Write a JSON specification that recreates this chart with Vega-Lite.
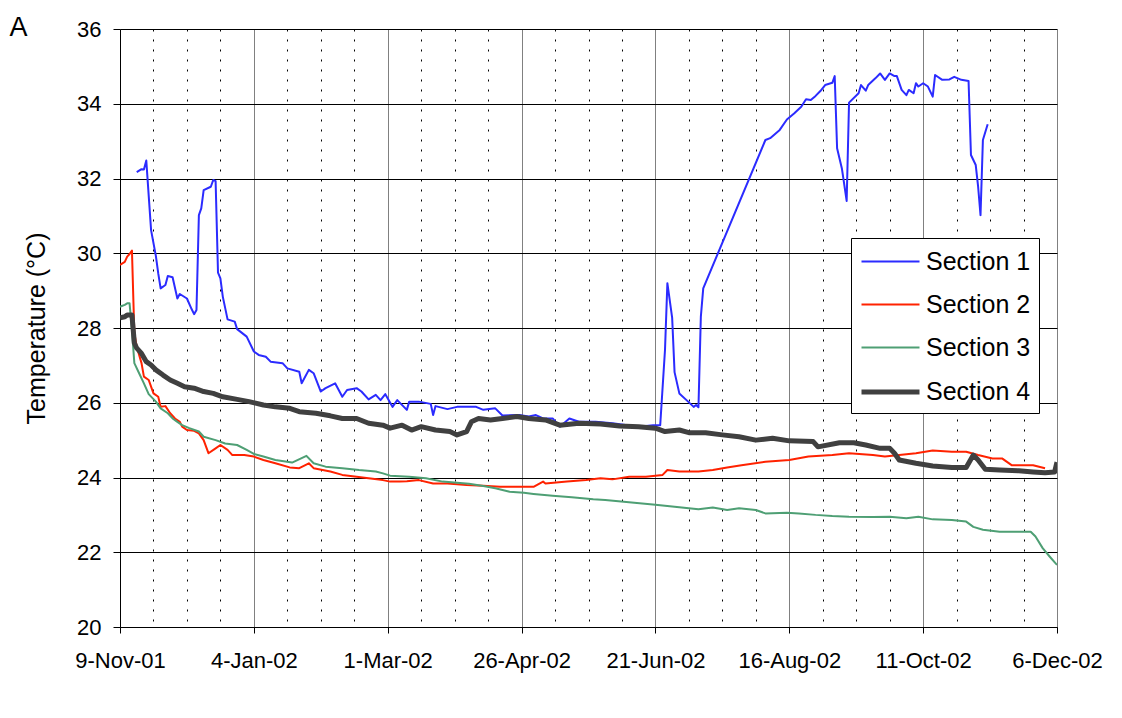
{
  "$schema": "https://vega.github.io/schema/vega-lite/v6.json",
  "width": 937,
  "height": 598,
  "autosize": {"type": "none"},
  "padding": {"left": 120, "top": 29, "right": 65, "bottom": 91},
  "background": "white",
  "title": {"text": "A", "anchor": "start", "frame": "bounds", "font": "Liberation Sans", "fontSize": 27, "fontWeight": "normal", "color": "black", "dx": -15, "dy": 24, "offset": 0},
  "data": {"values": [
    {"date": "2001-11-16", "section": "Section 1", "temp": 32.17},
    {"date": "2001-11-18", "section": "Section 1", "temp": 32.25},
    {"date": "2001-11-19", "section": "Section 1", "temp": 32.24},
    {"date": "2001-11-20", "section": "Section 1", "temp": 32.48},
    {"date": "2001-11-22", "section": "Section 1", "temp": 30.62},
    {"date": "2001-11-24", "section": "Section 1", "temp": 29.93},
    {"date": "2001-11-25", "section": "Section 1", "temp": 29.46},
    {"date": "2001-11-26", "section": "Section 1", "temp": 29.06},
    {"date": "2001-11-28", "section": "Section 1", "temp": 29.15},
    {"date": "2001-11-29", "section": "Section 1", "temp": 29.39},
    {"date": "2001-12-01", "section": "Section 1", "temp": 29.36},
    {"date": "2001-12-03", "section": "Section 1", "temp": 28.79},
    {"date": "2001-12-04", "section": "Section 1", "temp": 28.91},
    {"date": "2001-12-07", "section": "Section 1", "temp": 28.79},
    {"date": "2001-12-09", "section": "Section 1", "temp": 28.50},
    {"date": "2001-12-10", "section": "Section 1", "temp": 28.37},
    {"date": "2001-12-11", "section": "Section 1", "temp": 28.48},
    {"date": "2001-12-12", "section": "Section 1", "temp": 31.02},
    {"date": "2001-12-13", "section": "Section 1", "temp": 31.20},
    {"date": "2001-12-14", "section": "Section 1", "temp": 31.69},
    {"date": "2001-12-17", "section": "Section 1", "temp": 31.78},
    {"date": "2001-12-18", "section": "Section 1", "temp": 31.96},
    {"date": "2001-12-19", "section": "Section 1", "temp": 31.93},
    {"date": "2001-12-20", "section": "Section 1", "temp": 29.48},
    {"date": "2001-12-21", "section": "Section 1", "temp": 29.33},
    {"date": "2001-12-22", "section": "Section 1", "temp": 28.84},
    {"date": "2001-12-24", "section": "Section 1", "temp": 28.23},
    {"date": "2001-12-27", "section": "Section 1", "temp": 28.17},
    {"date": "2001-12-28", "section": "Section 1", "temp": 27.97},
    {"date": "2002-01-01", "section": "Section 1", "temp": 27.77},
    {"date": "2002-01-04", "section": "Section 1", "temp": 27.37},
    {"date": "2002-01-06", "section": "Section 1", "temp": 27.28},
    {"date": "2002-01-09", "section": "Section 1", "temp": 27.23},
    {"date": "2002-01-11", "section": "Section 1", "temp": 27.10},
    {"date": "2002-01-16", "section": "Section 1", "temp": 27.06},
    {"date": "2002-01-18", "section": "Section 1", "temp": 26.92},
    {"date": "2002-01-23", "section": "Section 1", "temp": 26.83},
    {"date": "2002-01-24", "section": "Section 1", "temp": 26.52},
    {"date": "2002-01-27", "section": "Section 1", "temp": 26.88},
    {"date": "2002-01-29", "section": "Section 1", "temp": 26.79},
    {"date": "2002-02-01", "section": "Section 1", "temp": 26.30},
    {"date": "2002-02-03", "section": "Section 1", "temp": 26.39},
    {"date": "2002-02-07", "section": "Section 1", "temp": 26.52},
    {"date": "2002-02-10", "section": "Section 1", "temp": 26.16},
    {"date": "2002-02-12", "section": "Section 1", "temp": 26.34},
    {"date": "2002-02-16", "section": "Section 1", "temp": 26.39},
    {"date": "2002-02-18", "section": "Section 1", "temp": 26.30},
    {"date": "2002-02-21", "section": "Section 1", "temp": 26.09},
    {"date": "2002-02-24", "section": "Section 1", "temp": 26.21},
    {"date": "2002-02-26", "section": "Section 1", "temp": 26.07},
    {"date": "2002-02-28", "section": "Section 1", "temp": 26.23},
    {"date": "2002-03-03", "section": "Section 1", "temp": 25.89},
    {"date": "2002-03-05", "section": "Section 1", "temp": 26.07},
    {"date": "2002-03-09", "section": "Section 1", "temp": 25.81},
    {"date": "2002-03-10", "section": "Section 1", "temp": 26.03},
    {"date": "2002-03-14", "section": "Section 1", "temp": 26.03},
    {"date": "2002-03-19", "section": "Section 1", "temp": 25.97},
    {"date": "2002-03-20", "section": "Section 1", "temp": 25.67},
    {"date": "2002-03-21", "section": "Section 1", "temp": 25.91},
    {"date": "2002-03-26", "section": "Section 1", "temp": 25.83},
    {"date": "2002-03-30", "section": "Section 1", "temp": 25.89},
    {"date": "2002-04-07", "section": "Section 1", "temp": 25.89},
    {"date": "2002-04-10", "section": "Section 1", "temp": 25.81},
    {"date": "2002-04-15", "section": "Section 1", "temp": 25.85},
    {"date": "2002-04-18", "section": "Section 1", "temp": 25.66},
    {"date": "2002-04-25", "section": "Section 1", "temp": 25.67},
    {"date": "2002-04-29", "section": "Section 1", "temp": 25.63},
    {"date": "2002-05-02", "section": "Section 1", "temp": 25.67},
    {"date": "2002-05-05", "section": "Section 1", "temp": 25.58},
    {"date": "2002-05-09", "section": "Section 1", "temp": 25.58},
    {"date": "2002-05-12", "section": "Section 1", "temp": 25.36},
    {"date": "2002-05-16", "section": "Section 1", "temp": 25.58},
    {"date": "2002-05-20", "section": "Section 1", "temp": 25.49},
    {"date": "2002-05-27", "section": "Section 1", "temp": 25.49},
    {"date": "2002-06-03", "section": "Section 1", "temp": 25.45},
    {"date": "2002-06-14", "section": "Section 1", "temp": 25.36},
    {"date": "2002-06-20", "section": "Section 1", "temp": 25.40},
    {"date": "2002-06-23", "section": "Section 1", "temp": 25.40},
    {"date": "2002-06-25", "section": "Section 1", "temp": 27.41},
    {"date": "2002-06-26", "section": "Section 1", "temp": 29.20},
    {"date": "2002-06-28", "section": "Section 1", "temp": 28.27},
    {"date": "2002-06-29", "section": "Section 1", "temp": 26.82},
    {"date": "2002-07-01", "section": "Section 1", "temp": 26.25},
    {"date": "2002-07-04", "section": "Section 1", "temp": 26.07},
    {"date": "2002-07-07", "section": "Section 1", "temp": 25.89},
    {"date": "2002-07-08", "section": "Section 1", "temp": 25.94},
    {"date": "2002-07-09", "section": "Section 1", "temp": 25.88},
    {"date": "2002-07-10", "section": "Section 1", "temp": 28.30},
    {"date": "2002-07-11", "section": "Section 1", "temp": 29.06},
    {"date": "2002-08-06", "section": "Section 1", "temp": 33.03},
    {"date": "2002-08-08", "section": "Section 1", "temp": 33.08},
    {"date": "2002-08-12", "section": "Section 1", "temp": 33.30},
    {"date": "2002-08-15", "section": "Section 1", "temp": 33.58},
    {"date": "2002-08-18", "section": "Section 1", "temp": 33.74},
    {"date": "2002-08-21", "section": "Section 1", "temp": 33.92},
    {"date": "2002-08-23", "section": "Section 1", "temp": 34.12},
    {"date": "2002-08-25", "section": "Section 1", "temp": 34.10},
    {"date": "2002-08-27", "section": "Section 1", "temp": 34.21},
    {"date": "2002-08-29", "section": "Section 1", "temp": 34.34},
    {"date": "2002-08-31", "section": "Section 1", "temp": 34.50},
    {"date": "2002-09-03", "section": "Section 1", "temp": 34.56},
    {"date": "2002-09-04", "section": "Section 1", "temp": 34.74},
    {"date": "2002-09-05", "section": "Section 1", "temp": 32.81},
    {"date": "2002-09-07", "section": "Section 1", "temp": 32.27},
    {"date": "2002-09-09", "section": "Section 1", "temp": 31.40},
    {"date": "2002-09-10", "section": "Section 1", "temp": 34.03},
    {"date": "2002-09-14", "section": "Section 1", "temp": 34.28},
    {"date": "2002-09-15", "section": "Section 1", "temp": 34.50},
    {"date": "2002-09-17", "section": "Section 1", "temp": 34.35},
    {"date": "2002-09-18", "section": "Section 1", "temp": 34.50},
    {"date": "2002-09-21", "section": "Section 1", "temp": 34.68},
    {"date": "2002-09-23", "section": "Section 1", "temp": 34.81},
    {"date": "2002-09-25", "section": "Section 1", "temp": 34.64},
    {"date": "2002-09-27", "section": "Section 1", "temp": 34.81},
    {"date": "2002-09-29", "section": "Section 1", "temp": 34.74},
    {"date": "2002-09-30", "section": "Section 1", "temp": 34.74},
    {"date": "2002-10-02", "section": "Section 1", "temp": 34.37},
    {"date": "2002-10-04", "section": "Section 1", "temp": 34.23},
    {"date": "2002-10-05", "section": "Section 1", "temp": 34.37},
    {"date": "2002-10-07", "section": "Section 1", "temp": 34.28},
    {"date": "2002-10-08", "section": "Section 1", "temp": 34.55},
    {"date": "2002-10-09", "section": "Section 1", "temp": 34.46},
    {"date": "2002-10-11", "section": "Section 1", "temp": 34.55},
    {"date": "2002-10-13", "section": "Section 1", "temp": 34.46},
    {"date": "2002-10-15", "section": "Section 1", "temp": 34.19},
    {"date": "2002-10-16", "section": "Section 1", "temp": 34.77},
    {"date": "2002-10-19", "section": "Section 1", "temp": 34.64},
    {"date": "2002-10-22", "section": "Section 1", "temp": 34.65},
    {"date": "2002-10-24", "section": "Section 1", "temp": 34.72},
    {"date": "2002-10-27", "section": "Section 1", "temp": 34.64},
    {"date": "2002-10-30", "section": "Section 1", "temp": 34.61},
    {"date": "2002-10-31", "section": "Section 1", "temp": 32.63},
    {"date": "2002-11-02", "section": "Section 1", "temp": 32.36},
    {"date": "2002-11-03", "section": "Section 1", "temp": 31.78},
    {"date": "2002-11-04", "section": "Section 1", "temp": 31.02},
    {"date": "2002-11-05", "section": "Section 1", "temp": 33.03},
    {"date": "2002-11-07", "section": "Section 1", "temp": 33.45},

    {"date": "2001-11-09", "section": "Section 2", "temp": 29.69},
    {"date": "2001-11-11", "section": "Section 2", "temp": 29.77},
    {"date": "2001-11-12", "section": "Section 2", "temp": 29.91},
    {"date": "2001-11-13", "section": "Section 2", "temp": 29.98},
    {"date": "2001-11-14", "section": "Section 2", "temp": 30.07},
    {"date": "2001-11-15", "section": "Section 2", "temp": 27.86},
    {"date": "2001-11-16", "section": "Section 2", "temp": 27.50},
    {"date": "2001-11-18", "section": "Section 2", "temp": 27.06},
    {"date": "2001-11-19", "section": "Section 2", "temp": 26.70},
    {"date": "2001-11-21", "section": "Section 2", "temp": 26.61},
    {"date": "2001-11-23", "section": "Section 2", "temp": 26.25},
    {"date": "2001-11-25", "section": "Section 2", "temp": 26.16},
    {"date": "2001-11-26", "section": "Section 2", "temp": 25.89},
    {"date": "2001-11-28", "section": "Section 2", "temp": 25.91},
    {"date": "2001-11-30", "section": "Section 2", "temp": 25.72},
    {"date": "2001-12-02", "section": "Section 2", "temp": 25.58},
    {"date": "2001-12-04", "section": "Section 2", "temp": 25.49},
    {"date": "2001-12-05", "section": "Section 2", "temp": 25.36},
    {"date": "2001-12-07", "section": "Section 2", "temp": 25.27},
    {"date": "2001-12-10", "section": "Section 2", "temp": 25.25},
    {"date": "2001-12-12", "section": "Section 2", "temp": 25.18},
    {"date": "2001-12-14", "section": "Section 2", "temp": 25.00},
    {"date": "2001-12-16", "section": "Section 2", "temp": 24.65},
    {"date": "2001-12-19", "section": "Section 2", "temp": 24.78},
    {"date": "2001-12-21", "section": "Section 2", "temp": 24.87},
    {"date": "2001-12-24", "section": "Section 2", "temp": 24.74},
    {"date": "2001-12-26", "section": "Section 2", "temp": 24.60},
    {"date": "2001-12-31", "section": "Section 2", "temp": 24.60},
    {"date": "2002-01-04", "section": "Section 2", "temp": 24.56},
    {"date": "2002-01-08", "section": "Section 2", "temp": 24.47},
    {"date": "2002-01-13", "section": "Section 2", "temp": 24.38},
    {"date": "2002-01-19", "section": "Section 2", "temp": 24.27},
    {"date": "2002-01-23", "section": "Section 2", "temp": 24.25},
    {"date": "2002-01-27", "section": "Section 2", "temp": 24.38},
    {"date": "2002-01-29", "section": "Section 2", "temp": 24.25},
    {"date": "2002-02-05", "section": "Section 2", "temp": 24.16},
    {"date": "2002-02-10", "section": "Section 2", "temp": 24.07},
    {"date": "2002-02-16", "section": "Section 2", "temp": 24.02},
    {"date": "2002-02-21", "section": "Section 2", "temp": 23.98},
    {"date": "2002-02-27", "section": "Section 2", "temp": 23.93},
    {"date": "2002-03-02", "section": "Section 2", "temp": 23.89},
    {"date": "2002-03-06", "section": "Section 2", "temp": 23.89},
    {"date": "2002-03-09", "section": "Section 2", "temp": 23.90},
    {"date": "2002-03-14", "section": "Section 2", "temp": 23.93},
    {"date": "2002-03-20", "section": "Section 2", "temp": 23.84},
    {"date": "2002-03-26", "section": "Section 2", "temp": 23.84},
    {"date": "2002-03-30", "section": "Section 2", "temp": 23.82},
    {"date": "2002-04-03", "section": "Section 2", "temp": 23.80},
    {"date": "2002-04-10", "section": "Section 2", "temp": 23.78},
    {"date": "2002-04-17", "section": "Section 2", "temp": 23.75},
    {"date": "2002-04-25", "section": "Section 2", "temp": 23.75},
    {"date": "2002-05-01", "section": "Section 2", "temp": 23.75},
    {"date": "2002-05-05", "section": "Section 2", "temp": 23.89},
    {"date": "2002-05-06", "section": "Section 2", "temp": 23.84},
    {"date": "2002-05-15", "section": "Section 2", "temp": 23.89},
    {"date": "2002-05-23", "section": "Section 2", "temp": 23.93},
    {"date": "2002-05-29", "section": "Section 2", "temp": 23.98},
    {"date": "2002-06-03", "section": "Section 2", "temp": 23.95},
    {"date": "2002-06-10", "section": "Section 2", "temp": 24.02},
    {"date": "2002-06-17", "section": "Section 2", "temp": 24.02},
    {"date": "2002-06-24", "section": "Section 2", "temp": 24.07},
    {"date": "2002-06-26", "section": "Section 2", "temp": 24.20},
    {"date": "2002-07-01", "section": "Section 2", "temp": 24.16},
    {"date": "2002-07-09", "section": "Section 2", "temp": 24.16},
    {"date": "2002-07-15", "section": "Section 2", "temp": 24.20},
    {"date": "2002-07-21", "section": "Section 2", "temp": 24.27},
    {"date": "2002-07-27", "section": "Section 2", "temp": 24.33},
    {"date": "2002-08-06", "section": "Section 2", "temp": 24.42},
    {"date": "2002-08-16", "section": "Section 2", "temp": 24.47},
    {"date": "2002-08-24", "section": "Section 2", "temp": 24.56},
    {"date": "2002-09-03", "section": "Section 2", "temp": 24.60},
    {"date": "2002-09-10", "section": "Section 2", "temp": 24.65},
    {"date": "2002-09-20", "section": "Section 2", "temp": 24.60},
    {"date": "2002-09-25", "section": "Section 2", "temp": 24.56},
    {"date": "2002-10-01", "section": "Section 2", "temp": 24.60},
    {"date": "2002-10-08", "section": "Section 2", "temp": 24.65},
    {"date": "2002-10-15", "section": "Section 2", "temp": 24.72},
    {"date": "2002-10-23", "section": "Section 2", "temp": 24.69},
    {"date": "2002-10-29", "section": "Section 2", "temp": 24.69},
    {"date": "2002-11-03", "section": "Section 2", "temp": 24.60},
    {"date": "2002-11-09", "section": "Section 2", "temp": 24.51},
    {"date": "2002-11-13", "section": "Section 2", "temp": 24.51},
    {"date": "2002-11-17", "section": "Section 2", "temp": 24.33},
    {"date": "2002-11-26", "section": "Section 2", "temp": 24.33},
    {"date": "2002-12-01", "section": "Section 2", "temp": 24.25},

    {"date": "2001-11-09", "section": "Section 3", "temp": 28.57},
    {"date": "2001-11-11", "section": "Section 3", "temp": 28.62},
    {"date": "2001-11-12", "section": "Section 3", "temp": 28.66},
    {"date": "2001-11-13", "section": "Section 3", "temp": 28.66},
    {"date": "2001-11-14", "section": "Section 3", "temp": 27.95},
    {"date": "2001-11-15", "section": "Section 3", "temp": 27.06},
    {"date": "2001-11-17", "section": "Section 3", "temp": 26.79},
    {"date": "2001-11-19", "section": "Section 3", "temp": 26.52},
    {"date": "2001-11-21", "section": "Section 3", "temp": 26.23},
    {"date": "2001-11-24", "section": "Section 3", "temp": 26.03},
    {"date": "2001-11-26", "section": "Section 3", "temp": 25.85},
    {"date": "2001-11-29", "section": "Section 3", "temp": 25.72},
    {"date": "2001-12-01", "section": "Section 3", "temp": 25.58},
    {"date": "2001-12-03", "section": "Section 3", "temp": 25.49},
    {"date": "2001-12-05", "section": "Section 3", "temp": 25.40},
    {"date": "2001-12-08", "section": "Section 3", "temp": 25.32},
    {"date": "2001-12-12", "section": "Section 3", "temp": 25.23},
    {"date": "2001-12-14", "section": "Section 3", "temp": 25.09},
    {"date": "2001-12-19", "section": "Section 3", "temp": 25.00},
    {"date": "2001-12-23", "section": "Section 3", "temp": 24.91},
    {"date": "2001-12-28", "section": "Section 3", "temp": 24.87},
    {"date": "2002-01-01", "section": "Section 3", "temp": 24.74},
    {"date": "2002-01-04", "section": "Section 3", "temp": 24.63},
    {"date": "2002-01-08", "section": "Section 3", "temp": 24.56},
    {"date": "2002-01-13", "section": "Section 3", "temp": 24.47},
    {"date": "2002-01-20", "section": "Section 3", "temp": 24.40},
    {"date": "2002-01-26", "section": "Section 3", "temp": 24.58},
    {"date": "2002-01-29", "section": "Section 3", "temp": 24.38},
    {"date": "2002-02-03", "section": "Section 3", "temp": 24.29},
    {"date": "2002-02-10", "section": "Section 3", "temp": 24.25},
    {"date": "2002-02-17", "section": "Section 3", "temp": 24.20},
    {"date": "2002-02-24", "section": "Section 3", "temp": 24.16},
    {"date": "2002-02-27", "section": "Section 3", "temp": 24.11},
    {"date": "2002-03-02", "section": "Section 3", "temp": 24.05},
    {"date": "2002-03-10", "section": "Section 3", "temp": 24.02},
    {"date": "2002-03-17", "section": "Section 3", "temp": 23.98},
    {"date": "2002-03-24", "section": "Section 3", "temp": 23.89},
    {"date": "2002-03-30", "section": "Section 3", "temp": 23.86},
    {"date": "2002-04-04", "section": "Section 3", "temp": 23.83},
    {"date": "2002-04-10", "section": "Section 3", "temp": 23.77},
    {"date": "2002-04-15", "section": "Section 3", "temp": 23.71},
    {"date": "2002-04-21", "section": "Section 3", "temp": 23.62},
    {"date": "2002-04-27", "section": "Section 3", "temp": 23.59},
    {"date": "2002-05-01", "section": "Section 3", "temp": 23.56},
    {"date": "2002-05-09", "section": "Section 3", "temp": 23.51},
    {"date": "2002-05-17", "section": "Section 3", "temp": 23.47},
    {"date": "2002-05-26", "section": "Section 3", "temp": 23.42},
    {"date": "2002-05-31", "section": "Section 3", "temp": 23.40},
    {"date": "2002-06-21", "section": "Section 3", "temp": 23.27},
    {"date": "2002-07-09", "section": "Section 3", "temp": 23.15},
    {"date": "2002-07-15", "section": "Section 3", "temp": 23.20},
    {"date": "2002-07-21", "section": "Section 3", "temp": 23.13},
    {"date": "2002-07-26", "section": "Section 3", "temp": 23.18},
    {"date": "2002-08-02", "section": "Section 3", "temp": 23.13},
    {"date": "2002-08-06", "section": "Section 3", "temp": 23.04},
    {"date": "2002-08-15", "section": "Section 3", "temp": 23.06},
    {"date": "2002-08-20", "section": "Section 3", "temp": 23.04},
    {"date": "2002-08-27", "section": "Section 3", "temp": 23.00},
    {"date": "2002-09-03", "section": "Section 3", "temp": 22.97},
    {"date": "2002-09-10", "section": "Section 3", "temp": 22.95},
    {"date": "2002-09-20", "section": "Section 3", "temp": 22.94},
    {"date": "2002-09-27", "section": "Section 3", "temp": 22.95},
    {"date": "2002-10-04", "section": "Section 3", "temp": 22.91},
    {"date": "2002-10-09", "section": "Section 3", "temp": 22.95},
    {"date": "2002-10-15", "section": "Section 3", "temp": 22.88},
    {"date": "2002-10-23", "section": "Section 3", "temp": 22.86},
    {"date": "2002-10-29", "section": "Section 3", "temp": 22.82},
    {"date": "2002-11-01", "section": "Section 3", "temp": 22.68},
    {"date": "2002-11-05", "section": "Section 3", "temp": 22.60},
    {"date": "2002-11-12", "section": "Section 3", "temp": 22.55},
    {"date": "2002-11-19", "section": "Section 3", "temp": 22.55},
    {"date": "2002-11-25", "section": "Section 3", "temp": 22.55},
    {"date": "2002-11-27", "section": "Section 3", "temp": 22.42},
    {"date": "2002-11-30", "section": "Section 3", "temp": 22.11},
    {"date": "2002-12-03", "section": "Section 3", "temp": 21.88},
    {"date": "2002-12-06", "section": "Section 3", "temp": 21.66},

    {"date": "2001-11-09", "section": "Section 4", "temp": 28.27},
    {"date": "2001-11-11", "section": "Section 4", "temp": 28.30},
    {"date": "2001-11-12", "section": "Section 4", "temp": 28.35},
    {"date": "2001-11-14", "section": "Section 4", "temp": 28.35},
    {"date": "2001-11-15", "section": "Section 4", "temp": 27.60},
    {"date": "2001-11-16", "section": "Section 4", "temp": 27.46},
    {"date": "2001-11-18", "section": "Section 4", "temp": 27.32},
    {"date": "2001-11-20", "section": "Section 4", "temp": 27.10},
    {"date": "2001-11-22", "section": "Section 4", "temp": 27.01},
    {"date": "2001-11-24", "section": "Section 4", "temp": 26.88},
    {"date": "2001-11-27", "section": "Section 4", "temp": 26.74},
    {"date": "2001-11-30", "section": "Section 4", "temp": 26.61},
    {"date": "2001-12-03", "section": "Section 4", "temp": 26.52},
    {"date": "2001-12-06", "section": "Section 4", "temp": 26.43},
    {"date": "2001-12-10", "section": "Section 4", "temp": 26.39},
    {"date": "2001-12-14", "section": "Section 4", "temp": 26.30},
    {"date": "2001-12-18", "section": "Section 4", "temp": 26.25},
    {"date": "2001-12-22", "section": "Section 4", "temp": 26.16},
    {"date": "2001-12-28", "section": "Section 4", "temp": 26.09},
    {"date": "2002-01-02", "section": "Section 4", "temp": 26.03},
    {"date": "2002-01-08", "section": "Section 4", "temp": 25.94},
    {"date": "2002-01-13", "section": "Section 4", "temp": 25.89},
    {"date": "2002-01-19", "section": "Section 4", "temp": 25.85},
    {"date": "2002-01-23", "section": "Section 4", "temp": 25.76},
    {"date": "2002-01-30", "section": "Section 4", "temp": 25.72},
    {"date": "2002-02-05", "section": "Section 4", "temp": 25.65},
    {"date": "2002-02-10", "section": "Section 4", "temp": 25.58},
    {"date": "2002-02-16", "section": "Section 4", "temp": 25.58},
    {"date": "2002-02-21", "section": "Section 4", "temp": 25.45},
    {"date": "2002-02-27", "section": "Section 4", "temp": 25.40},
    {"date": "2002-03-02", "section": "Section 4", "temp": 25.32},
    {"date": "2002-03-07", "section": "Section 4", "temp": 25.40},
    {"date": "2002-03-11", "section": "Section 4", "temp": 25.27},
    {"date": "2002-03-15", "section": "Section 4", "temp": 25.36},
    {"date": "2002-03-21", "section": "Section 4", "temp": 25.27},
    {"date": "2002-03-27", "section": "Section 4", "temp": 25.23},
    {"date": "2002-03-30", "section": "Section 4", "temp": 25.14},
    {"date": "2002-04-03", "section": "Section 4", "temp": 25.23},
    {"date": "2002-04-05", "section": "Section 4", "temp": 25.49},
    {"date": "2002-04-08", "section": "Section 4", "temp": 25.58},
    {"date": "2002-04-13", "section": "Section 4", "temp": 25.54},
    {"date": "2002-04-18", "section": "Section 4", "temp": 25.58},
    {"date": "2002-04-24", "section": "Section 4", "temp": 25.63},
    {"date": "2002-04-29", "section": "Section 4", "temp": 25.58},
    {"date": "2002-05-06", "section": "Section 4", "temp": 25.54},
    {"date": "2002-05-12", "section": "Section 4", "temp": 25.40},
    {"date": "2002-05-20", "section": "Section 4", "temp": 25.45},
    {"date": "2002-05-29", "section": "Section 4", "temp": 25.43},
    {"date": "2002-06-06", "section": "Section 4", "temp": 25.38},
    {"date": "2002-06-14", "section": "Section 4", "temp": 25.36},
    {"date": "2002-06-21", "section": "Section 4", "temp": 25.32},
    {"date": "2002-06-25", "section": "Section 4", "temp": 25.23},
    {"date": "2002-07-01", "section": "Section 4", "temp": 25.27},
    {"date": "2002-07-05", "section": "Section 4", "temp": 25.20},
    {"date": "2002-07-12", "section": "Section 4", "temp": 25.20},
    {"date": "2002-07-19", "section": "Section 4", "temp": 25.14},
    {"date": "2002-07-26", "section": "Section 4", "temp": 25.09},
    {"date": "2002-08-02", "section": "Section 4", "temp": 25.00},
    {"date": "2002-08-09", "section": "Section 4", "temp": 25.05},
    {"date": "2002-08-16", "section": "Section 4", "temp": 24.98},
    {"date": "2002-08-26", "section": "Section 4", "temp": 24.96},
    {"date": "2002-08-28", "section": "Section 4", "temp": 24.82},
    {"date": "2002-09-06", "section": "Section 4", "temp": 24.93},
    {"date": "2002-09-12", "section": "Section 4", "temp": 24.93},
    {"date": "2002-09-17", "section": "Section 4", "temp": 24.87},
    {"date": "2002-09-23", "section": "Section 4", "temp": 24.78},
    {"date": "2002-09-27", "section": "Section 4", "temp": 24.78},
    {"date": "2002-09-29", "section": "Section 4", "temp": 24.65},
    {"date": "2002-10-01", "section": "Section 4", "temp": 24.47},
    {"date": "2002-10-08", "section": "Section 4", "temp": 24.38},
    {"date": "2002-10-15", "section": "Section 4", "temp": 24.31},
    {"date": "2002-10-23", "section": "Section 4", "temp": 24.27},
    {"date": "2002-10-29", "section": "Section 4", "temp": 24.27},
    {"date": "2002-11-01", "section": "Section 4", "temp": 24.60},
    {"date": "2002-11-03", "section": "Section 4", "temp": 24.47},
    {"date": "2002-11-06", "section": "Section 4", "temp": 24.22},
    {"date": "2002-11-12", "section": "Section 4", "temp": 24.20},
    {"date": "2002-11-20", "section": "Section 4", "temp": 24.18},
    {"date": "2002-11-26", "section": "Section 4", "temp": 24.15},
    {"date": "2002-12-01", "section": "Section 4", "temp": 24.13},
    {"date": "2002-12-05", "section": "Section 4", "temp": 24.15},
    {"date": "2002-12-06", "section": "Section 4", "temp": 24.41}
  ]},
  "mark": {"type": "line", "interpolate": "linear", "strokeJoin": "round", "clip": true},
  "encoding": {
    "x": {
      "field": "date", "type": "temporal", "title": null,
      "scale": {"type": "utc", "domain": [{"year": 2001, "month": 11, "date": 9, "utc": true}, {"year": 2002, "month": 12, "date": 6, "utc": true}], "nice": false},
      "axis": {
        "values": [
          {"year": 2001, "month": 11, "date": 9, "utc": true},
          {"year": 2001, "month": 11, "date": 23, "utc": true},
          {"year": 2001, "month": 12, "date": 7, "utc": true},
          {"year": 2001, "month": 12, "date": 21, "utc": true},
          {"year": 2002, "month": 1, "date": 4, "utc": true},
          {"year": 2002, "month": 1, "date": 18, "utc": true},
          {"year": 2002, "month": 2, "date": 1, "utc": true},
          {"year": 2002, "month": 2, "date": 15, "utc": true},
          {"year": 2002, "month": 3, "date": 1, "utc": true},
          {"year": 2002, "month": 3, "date": 15, "utc": true},
          {"year": 2002, "month": 3, "date": 29, "utc": true},
          {"year": 2002, "month": 4, "date": 12, "utc": true},
          {"year": 2002, "month": 4, "date": 26, "utc": true},
          {"year": 2002, "month": 5, "date": 10, "utc": true},
          {"year": 2002, "month": 5, "date": 24, "utc": true},
          {"year": 2002, "month": 6, "date": 7, "utc": true},
          {"year": 2002, "month": 6, "date": 21, "utc": true},
          {"year": 2002, "month": 7, "date": 5, "utc": true},
          {"year": 2002, "month": 7, "date": 19, "utc": true},
          {"year": 2002, "month": 8, "date": 2, "utc": true},
          {"year": 2002, "month": 8, "date": 16, "utc": true},
          {"year": 2002, "month": 8, "date": 30, "utc": true},
          {"year": 2002, "month": 9, "date": 13, "utc": true},
          {"year": 2002, "month": 9, "date": 27, "utc": true},
          {"year": 2002, "month": 10, "date": 11, "utc": true},
          {"year": 2002, "month": 10, "date": 25, "utc": true},
          {"year": 2002, "month": 11, "date": 8, "utc": true},
          {"year": 2002, "month": 11, "date": 22, "utc": true},
          {"year": 2002, "month": 12, "date": 6, "utc": true}
        ],
        "labelExpr": "round((datum.value - utc(2001,10,9)) / 86400000) % 56 == 0 ? utcFormat(datum.value, '%-d-%b-%y') : ''",
        "labelOverlap": false,
        "labelFont": "Liberation Sans", "labelFontSize": 22, "labelColor": "black", "labelPadding": 17,
        "labelFlush": false,
        "domainColor": "black", "domainWidth": 1,
        "tickColor": "black", "tickSize": 6,
        "tickOpacity": {"condition": {"test": "round((datum.value - utc(2001,10,9)) / 86400000) % 56 == 0", "value": 1}, "value": 0},
        "grid": true,
        "gridColor": {"condition": {"test": "round((datum.value - utc(2001,10,9)) / 86400000) % 56 == 0", "value": "#808080"}, "value": "#000000"},
        "gridDash": {"condition": {"test": "round((datum.value - utc(2001,10,9)) / 86400000) % 56 == 0", "value": []}, "value": [2, 8]},
        "gridWidth": 1
      }
    },
    "y": {
      "field": "temp", "type": "quantitative", "title": "Temperature (°C)",
      "scale": {"domain": [20, 36], "nice": false, "zero": false},
      "axis": {
        "values": [20, 22, 24, 26, 28, 30, 32, 34, 36],
        "labelFont": "Liberation Sans", "labelFontSize": 22, "labelColor": "black", "labelPadding": 12,
        "labelFlush": false,
        "titleFont": "Liberation Sans", "titleFontSize": 25, "titleFontWeight": "normal", "titleColor": "black", "titlePadding": 27,
        "domainColor": "black", "tickColor": "black", "tickSize": 7,
        "grid": true, "gridColor": "#000000", "gridWidth": 1
      }
    },
    "color": {
      "field": "section", "type": "nominal", "title": null,
      "scale": {"domain": ["Section 1", "Section 2", "Section 3", "Section 4"], "range": ["#2b2bff", "#ff2200", "#4e9f74", "#404040"]}
    },
    "strokeWidth": {
      "field": "section", "type": "ordinal", "title": null,
      "scale": {"type": "ordinal", "domain": ["Section 1", "Section 2", "Section 3", "Section 4"], "range": [2, 2, 2, 5]}
    }
  },
  "config": {
    "view": {"stroke": null},
    "legend": {
      "orient": "none", "legendX": 731, "legendY": 209,
      "fillColor": "white", "strokeColor": "black", "padding": 8,
      "symbolType": "M-1,0H3", "symbolSize": 841,
      "labelFont": "Liberation Sans", "labelFontSize": 25, "labelColor": "black", "labelOffset": 33,
      "rowPadding": 14
    }
  }
}
